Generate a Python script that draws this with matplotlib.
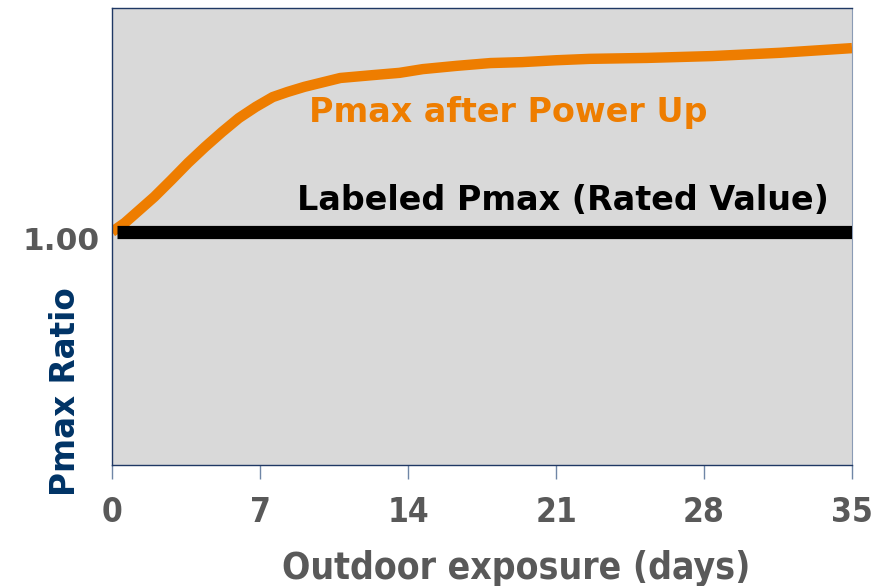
import matplotlib.pyplot as plt
from matplotlib.transforms import ScaledTranslation

# curva Pmax tras exposicion
days = [0, 0.6, 1.2, 2.0, 2.8, 3.6, 4.4, 5.2, 6.0, 6.8, 7.6, 8.3, 9.1, 10.8,
        12.3, 13.6, 14.7, 16.3, 17.9, 19.4, 21.0, 22.6, 25.3, 28.4, 31.6, 35]
pmax_ratio = [1.0, 1.0019, 1.0043, 1.0075, 1.0111, 1.0148, 1.0182, 1.0214,
              1.0244, 1.0268, 1.0289, 1.0300, 1.0311, 1.0330, 1.0336, 1.0341,
              1.0349, 1.0356, 1.0362, 1.0364, 1.0368, 1.0371, 1.0373, 1.0377,
              1.0384, 1.0394]

rated_days = [0.25, 35]
rated_ratio = [1.0, 1.0]

x_ticks = [0, 7, 14, 21, 28, 35]
y_ticks = [1.0]
y_tick_labels = ["1.00"]

ORANGE = "#EE7D00"
NAVY = "#003366"
GRAY = "#595959"

plt.rcParams["font.family"] = ["DejaVu Sans"]
plt.rcParams["font.weight"] = "bold"

fig = plt.figure(figsize=(8.82, 5.86), dpi=100)
ax = fig.add_axes([0.127, 0.2065, 0.839, 0.7798])
ax.set_facecolor("#D9D9D9")

ax.plot(days, pmax_ratio, color=ORANGE, linewidth=7.5, solid_capstyle="butt",
        solid_joinstyle="round", zorder=2)
ax.plot(rated_days, rated_ratio, color="black", linewidth=9.5,
        solid_capstyle="butt", zorder=3)

ax.text(18.76, 1.0255, "Pmax after Power Up", color=ORANGE, fontsize=24,
        fontweight="bold", ha="center", va="center")
ax.text(21.33, 1.0068, "Labeled Pmax (Rated Value)", color="black", fontsize=24,
        fontweight="bold", ha="center", va="center")

ax.set_xlim(0, 35)
ax.set_ylim(0.95, 1.048)
ax.set_xticks(x_ticks)
ax.set_xticklabels([str(t) for t in x_ticks])
ax.set_yticks(y_ticks)
ax.set_yticklabels(y_tick_labels)

ax.tick_params(axis="x", direction="out", length=10, width=1, color="#6F86A6",
               labelsize=24, labelcolor=GRAY, pad=12)
ax.tick_params(axis="y", length=0, labelsize=22.5, labelcolor=GRAY, pad=9)
for lab in ax.get_xticklabels():
    lab.set_fontweight("bold")
    lab.set_fontstretch("condensed")
for lab in ax.get_yticklabels():
    lab.set_fontweight("bold")
    lab.set_transform(lab.get_transform() + ScaledTranslation(0, -7 / 100, fig.dpi_scale_trans))

ax.set_xlabel("Outdoor exposure (days)", fontsize=26.7, fontweight="bold",
              color=GRAY, fontstretch="condensed")
ax.xaxis.set_label_coords(0.546, -0.185)
ax.set_ylabel("Pmax Ratio", fontsize=23.5, fontweight="bold", color=NAVY)
ax.yaxis.set_label_coords(-0.0405, 0.16)

for side in ["top", "left", "bottom"]:
    ax.spines[side].set_color("#1F3864")
    ax.spines[side].set_linewidth(1)
ax.spines["right"].set_color("#8A9BB5")

fig.savefig("out.png", dpi=100)
